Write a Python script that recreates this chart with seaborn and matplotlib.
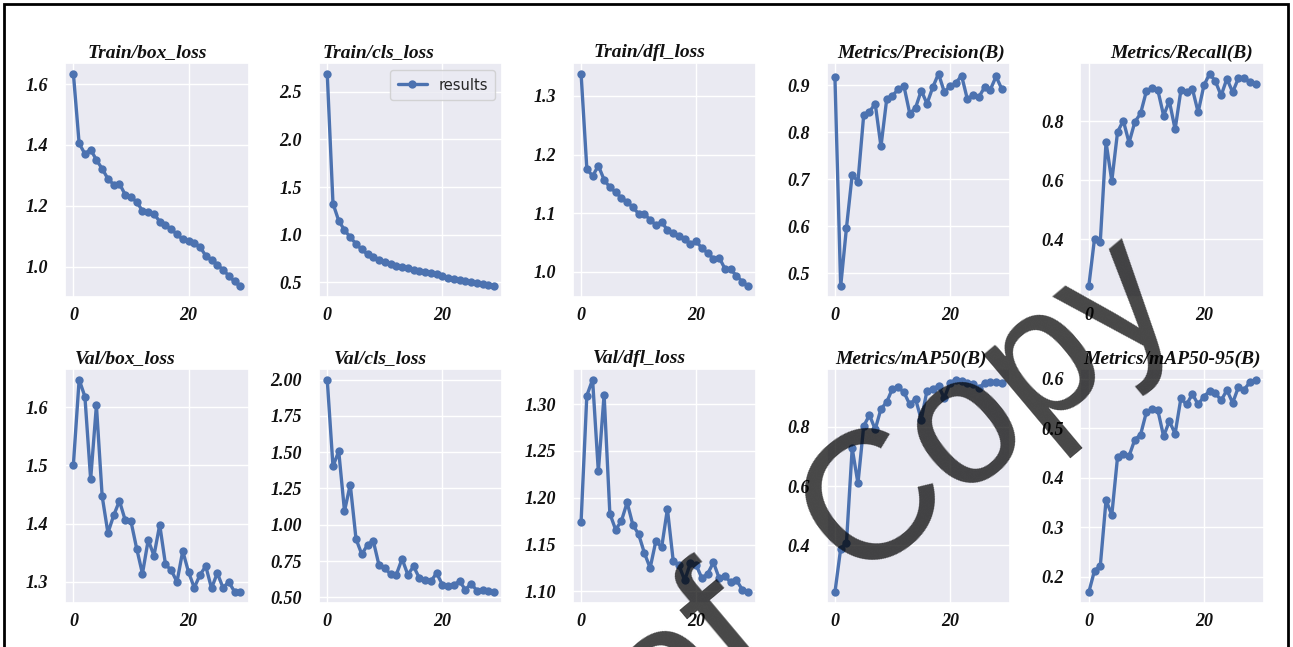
import matplotlib
matplotlib.use("Agg")
import matplotlib.pyplot as plt
from matplotlib.ticker import MultipleLocator
from matplotlib.patches import Rectangle
import seaborn as sns

# Training history, one value per epoch
epochs = list(range(30))

train_box_loss = [1.634, 1.405, 1.371, 1.385, 1.351, 1.322, 1.289, 1.270, 1.273, 1.237,
                  1.229, 1.213, 1.184, 1.179, 1.175, 1.148, 1.137, 1.123, 1.107, 1.090,
                  1.086, 1.077, 1.066, 1.036, 1.023, 1.007, 0.990, 0.971, 0.952, 0.936]
train_cls_loss = [2.690, 1.327, 1.146, 1.049, 0.973, 0.905, 0.845, 0.795, 0.765, 0.735,
                  0.712, 0.692, 0.672, 0.660, 0.650, 0.632, 0.622, 0.610, 0.600, 0.592,
                  0.568, 0.548, 0.533, 0.522, 0.511, 0.501, 0.491, 0.482, 0.470, 0.458]
train_dfl_loss = [1.338, 1.176, 1.163, 1.181, 1.157, 1.144, 1.136, 1.126, 1.119, 1.110,
                  1.099, 1.099, 1.088, 1.080, 1.085, 1.071, 1.066, 1.061, 1.055, 1.048,
                  1.052, 1.040, 1.032, 1.022, 1.024, 1.005, 1.004, 0.993, 0.983, 0.975]
precision = [0.918, 0.472, 0.596, 0.710, 0.695, 0.837, 0.844, 0.861, 0.770, 0.871,
             0.878, 0.892, 0.898, 0.840, 0.852, 0.889, 0.861, 0.896, 0.925, 0.886,
             0.898, 0.905, 0.921, 0.871, 0.879, 0.875, 0.896, 0.891, 0.919, 0.892]
recall = [0.240, 0.402, 0.391, 0.729, 0.597, 0.763, 0.802, 0.727, 0.797, 0.826,
          0.901, 0.913, 0.905, 0.819, 0.868, 0.772, 0.904, 0.898, 0.910, 0.830,
          0.921, 0.961, 0.935, 0.887, 0.944, 0.898, 0.946, 0.946, 0.933, 0.926]
val_box_loss = [1.501, 1.647, 1.618, 1.476, 1.603, 1.447, 1.384, 1.414, 1.439, 1.406,
                1.404, 1.357, 1.314, 1.372, 1.345, 1.398, 1.330, 1.320, 1.300, 1.353,
                1.317, 1.290, 1.312, 1.327, 1.289, 1.315, 1.290, 1.300, 1.283, 1.282]
val_cls_loss = [2.000, 1.403, 1.506, 1.094, 1.277, 0.902, 0.797, 0.861, 0.889, 0.720,
                0.701, 0.660, 0.656, 0.765, 0.656, 0.713, 0.633, 0.621, 0.610, 0.667,
                0.587, 0.580, 0.587, 0.610, 0.553, 0.594, 0.546, 0.553, 0.546, 0.534]
val_dfl_loss = [1.174, 1.309, 1.326, 1.228, 1.310, 1.183, 1.166, 1.175, 1.195, 1.171,
                1.161, 1.141, 1.125, 1.154, 1.147, 1.188, 1.133, 1.128, 1.112, 1.130,
                1.128, 1.114, 1.119, 1.131, 1.114, 1.116, 1.110, 1.112, 1.102, 1.099]
map50 = [0.240, 0.388, 0.407, 0.728, 0.609, 0.803, 0.840, 0.792, 0.861, 0.884,
         0.930, 0.934, 0.917, 0.876, 0.895, 0.825, 0.923, 0.930, 0.938, 0.898,
         0.949, 0.960, 0.954, 0.949, 0.945, 0.932, 0.949, 0.952, 0.952, 0.947]
map50_95 = [0.169, 0.213, 0.222, 0.355, 0.325, 0.442, 0.448, 0.444, 0.477, 0.487,
            0.532, 0.538, 0.536, 0.484, 0.514, 0.489, 0.560, 0.548, 0.569, 0.548,
            0.564, 0.575, 0.571, 0.556, 0.577, 0.551, 0.583, 0.578, 0.593, 0.598]

titles = ["Train/box_loss", "Train/cls_loss", "Train/dfl_loss",
          "Metrics/Precision(B)", "Metrics/Recall(B)",
          "Val/box_loss", "Val/cls_loss", "Val/dfl_loss",
          "Metrics/mAP50(B)", "Metrics/mAP50-95(B)"]
series = [train_box_loss, train_cls_loss, train_dfl_loss, precision, recall,
          val_box_loss, val_cls_loss, val_dfl_loss, map50, map50_95]
y_steps = [0.2, 0.5, 0.1, 0.1, 0.2, 0.1, 0.25, 0.05, 0.2, 0.1]
title_x = [0.446, 0.323, 0.42, 0.516, 0.55, 0.33, 0.337, 0.363, 0.459, 0.5]

sns.set_theme(style="darkgrid")
plt.rcParams["font.family"] = ["Liberation Serif", "DejaVu Serif"]
plt.rcParams["font.weight"] = "bold"
plt.rcParams["font.style"] = "italic"

line_color = "#4C72B0"

fig, axes = plt.subplots(2, 5, figsize=(12.93, 6.47), dpi=100)
fig.subplots_adjust(left=0.0503, right=0.9776, top=0.9026, bottom=0.068,
                    wspace=0.3825, hspace=0.3077)

for i, (ax, title, values, step, tx) in enumerate(
        zip(axes.flat, titles, series, y_steps, title_x)):
    sns.lineplot(x=epochs, y=values, ax=ax, marker="o", color=line_color,
                 linewidth=2.4, markersize=6, markeredgewidth=0,
                 label="results" if i == 1 else None)
    ax.xaxis.set_major_locator(MultipleLocator(20))
    ax.yaxis.set_major_locator(MultipleLocator(step))
    ax.set_xlabel("")
    ax.set_ylabel("")
    ax.tick_params(axis="both", labelsize=13, colors="#111111")
    ax.tick_params(axis="x", pad=1)
    ax.tick_params(axis="y", pad=6)
    ax.set_title(title, fontsize=14, fontweight="bold", fontstyle="italic",
                 pad=4, color="#111111")
    ax.title.set_x(tx)
    if i == 1:
        ax.legend(loc="upper right",
                  prop=dict(family="DejaVu Sans", style="normal",
                            weight="normal", size=10.5),
                  frameon=True, borderpad=0.5)
    elif ax.get_legend() is not None:
        ax.get_legend().remove()

# Outer frame around the figure
fig.add_artist(Rectangle((4 / 1293, -0.02), (1288 - 4) / 1293, 1 - 4 / 647 + 0.02,
                         transform=fig.transFigure, fill=False,
                         edgecolor="black", linewidth=2, clip_on=False))

# Watermark
fig.text(0.6303, 0.0355, "Proof  Copy", rotation=40, rotation_mode="anchor",
         ha="center", va="baseline", fontsize=132, family="Liberation Sans",
         fontweight="normal", fontstyle="normal", color="black", alpha=0.72)

fig.savefig("out.png", dpi=100)
